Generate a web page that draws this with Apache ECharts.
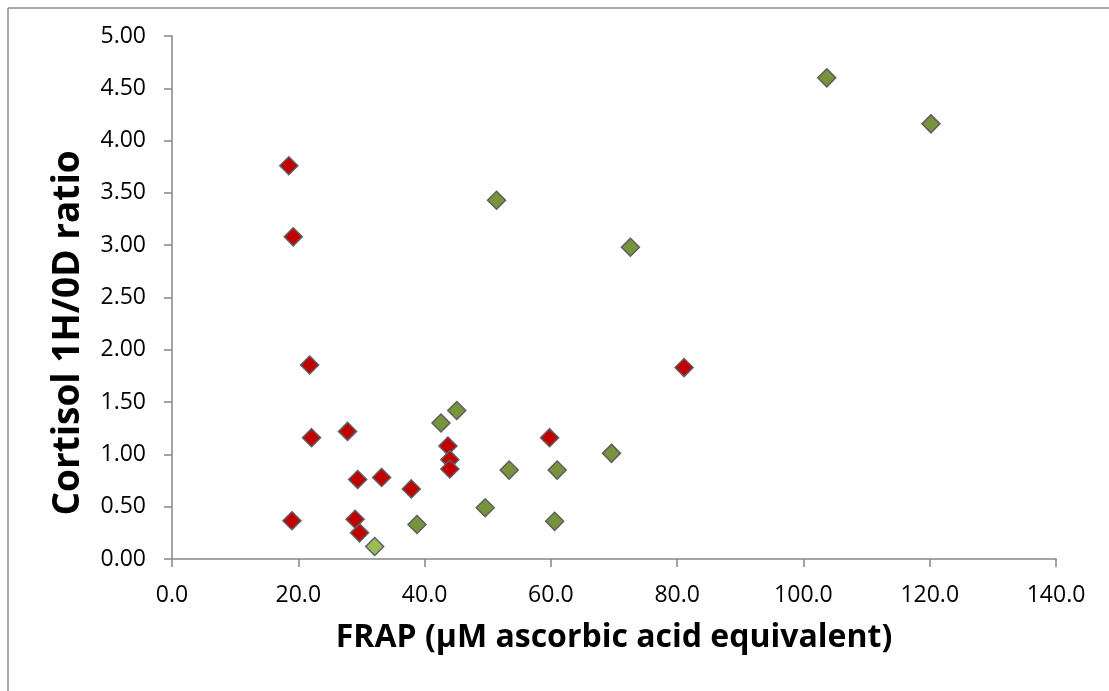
<!DOCTYPE html>
<html>
<head>
<meta charset="utf-8">
<script src="https://cdn.jsdelivr.net/npm/echarts@6/dist/echarts.min.js"></script>
<style>
html,body{margin:0;padding:0;background:#fff;}
#chart{width:1109px;height:691px;}
</style>
</head>
<body>
<div id="chart"></div>
<script>
// Data: [FRAP, Cortisol 1H/0D ratio]
const redPoints = [
  [18.5, 3.76], [19.2, 3.08], [21.8, 1.855], [22.1, 1.16], [27.8, 1.22],
  [19.0, 0.366], [29.4, 0.76], [33.2, 0.78], [37.9, 0.67], [29.0, 0.38],
  [29.7, 0.25], [43.7, 1.08], [44.0, 0.95], [44.0, 0.86], [59.8, 1.16],
  [81.1, 1.83]
];
const greenPoints = [
  [51.4, 3.43], [103.7, 4.60], [120.2, 4.16], [72.6, 2.98], [38.8, 0.33],
  [42.6, 1.30], [45.1, 1.42], [49.6, 0.49], [53.4, 0.85], [61.0, 0.85],
  [60.6, 0.36], [69.6, 1.01]
];
const lightGreenPoints = [
  [32.1, 0.12]
];
const xTitle = 'FRAP (µM ascorbic acid equivalent)';
const yTitle = 'Cortisol 1H/0D ratio';
const xMin = 0, xMax = 140, xStep = 20;
const yMin = 0, yMax = 5, yStep = 0.5;

const FONT = 'Open Sans';
const chart = echarts.init(document.getElementById('chart'), null, {renderer: 'canvas'});

function sc(data, color) {
  return {
    type: 'scatter',
    data: data,
    symbol: 'diamond',
    symbolSize: [18, 18],
    itemStyle: {color: color, borderColor: '#5f5f5f', borderWidth: 1.5, opacity: 1},
    emphasis: {disabled: true},
    z: 3
  };
}

const axisCommon = {
  axisLine: {show: true, onZero: false, lineStyle: {color: '#868686', width: 1.5}},
  axisTick: {show: true, inside: false, length: 8, lineStyle: {color: '#868686', width: 1.5}},
  splitLine: {show: false},
};

chart.setOption({
  animation: false,
  backgroundColor: '#ffffff',
  grid: {left: 172, top: 36, right: 53, bottom: 132, containLabel: false},
  xAxis: Object.assign({
    type: 'value', min: xMin, max: xMax, interval: xStep,
    axisLabel: {color: '#000', fontFamily: FONT, fontSize: 23, margin: 25,
      formatter: v => v.toFixed(1)},
    name: xTitle, nameLocation: 'middle', nameGap: 63,
    nameTextStyle: {color: '#000', fontFamily: FONT, fontSize: 32, fontWeight: 'bold'}
  }, axisCommon),
  yAxis: Object.assign({
    type: 'value', min: yMin, max: yMax, interval: yStep,
    axisLabel: {color: '#000', fontFamily: FONT, fontSize: 23, margin: 26,
      formatter: v => v.toFixed(2)}
  }, axisCommon),
  graphic: [
    {type: 'line', shape: {x1: 8, y1: 8, x2: 1109, y2: 8}, style: {stroke: '#8c8c8c', lineWidth: 1.5}},
    {type: 'line', shape: {x1: 8, y1: 8, x2: 8, y2: 691}, style: {stroke: '#8c8c8c', lineWidth: 1.5}},
    {type: 'text', x: 68, y: 333, rotation: Math.PI / 2,
      style: {text: yTitle, fill: '#000', font: 'bold 37px "Open Sans"', align: 'center', verticalAlign: 'middle'}}
  ],
  series: [sc(redPoints, '#c00000'), sc(greenPoints, '#77933c'), sc(lightGreenPoints, '#9bbb59')]
});
</script>
</body>
</html>
